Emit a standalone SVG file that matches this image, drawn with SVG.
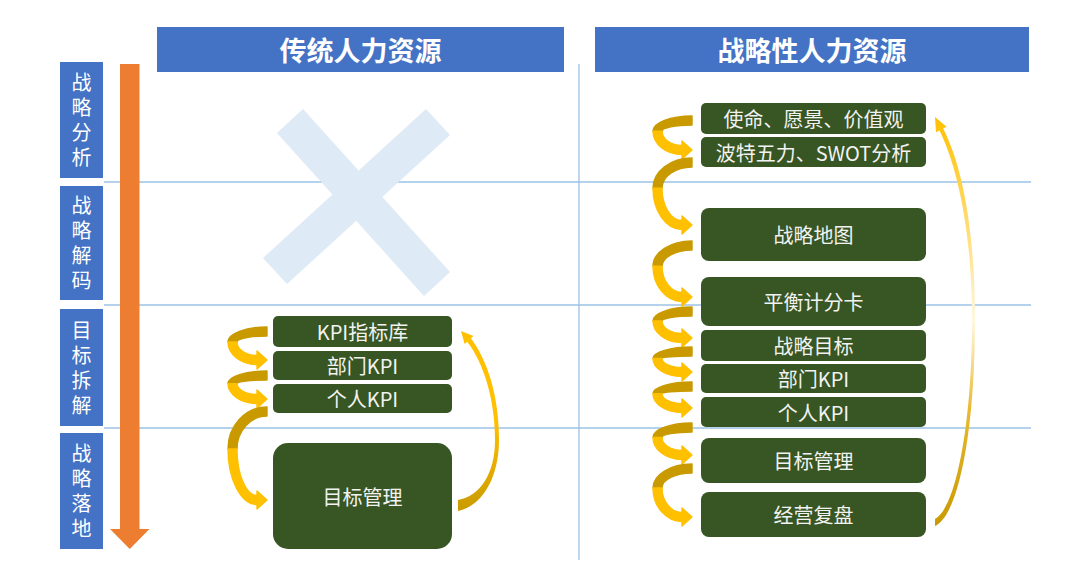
<svg xmlns="http://www.w3.org/2000/svg" width="1080" height="576" viewBox="0 0 1080 576">
<defs>
<style>
.grid{stroke:#9DC3E6;stroke-width:1.3;fill:none}
.hdr{fill:#4472C4}
.hdrt{font-family:"Noto Sans CJK SC","Noto Sans",sans-serif;font-size:27px;font-weight:bold;fill:#FFFFFF;text-anchor:middle;dominant-baseline:central}
.lbl{fill:#4472C4}
.lblt{font-family:"Noto Sans CJK SC","Noto Sans",sans-serif;font-size:20px;fill:#FFFFFF;text-anchor:middle;writing-mode:tb;letter-spacing:5px}
.nd{fill:#375623}
.ndt{font-family:"Noto Sans CJK SC","Noto Sans",sans-serif;font-size:20px;fill:#F2F2F2;text-anchor:middle;dominant-baseline:central}
.bk{fill:#C99A00;stroke:#C99A00;stroke-width:1.4;stroke-linejoin:round}
.fr{fill:#FFC000;stroke:#FFC000;stroke-width:1.4;stroke-linejoin:round}
</style>
<linearGradient id="gL" gradientUnits="userSpaceOnUse" x1="0" y1="330" x2="0" y2="512">
<stop offset="0" stop-color="#FFC000"/>
<stop offset="0.5" stop-color="#FFC000"/>
<stop offset="1" stop-color="#C99A00"/>
</linearGradient>
<linearGradient id="gR" gradientUnits="userSpaceOnUse" x1="0" y1="117" x2="0" y2="526">
<stop offset="0" stop-color="#FFC000"/>
<stop offset="0.3" stop-color="#FFE083"/>
<stop offset="0.5" stop-color="#FFF7E0"/>
<stop offset="0.72" stop-color="#E8B830"/>
<stop offset="1" stop-color="#C99A00"/>
</linearGradient>
</defs>
<rect width="1080" height="576" fill="#FFFFFF"/>

<g id="grid">
<line class="grid" x1="104" y1="182" x2="1031" y2="182"/>
<line class="grid" x1="104" y1="305" x2="1031" y2="305"/>
<line class="grid" x1="104" y1="428" x2="1031" y2="428"/>
<line class="grid" x1="579" y1="64" x2="579" y2="560"/>
</g>

<g id="cross" fill="#DEEAF6">
<polygon points="277,133 303,109 450,272 424,296"/>
<polygon points="426,109 450,135 287,284 263,258"/>
</g>

<g id="timeline">
<rect x="120" y="64" width="19.5" height="466" fill="#ED7D31"/>
<polygon points="110,529 149.5,529 129.75,549" fill="#ED7D31"/>
</g>

<g id="header-traditional">
<rect class="hdr" x="157" y="27" width="407" height="45"/>
<text class="hdrt" x="360.5" y="49.5">传统人力资源</text>
</g>
<g id="header-strategic">
<rect class="hdr" x="595" y="27" width="434" height="45"/>
<text class="hdrt" x="812" y="49.5">战略性人力资源</text>
</g>

<g id="stage-analysis">
<rect class="lbl" x="60" y="62" width="43" height="116"/>
<text class="lblt" x="81.5" y="122.5">战略分析</text>
</g>
<g id="stage-decode">
<rect class="lbl" x="60" y="186" width="43" height="114"/>
<text class="lblt" x="81.5" y="245.5">战略解码</text>
</g>
<g id="stage-breakdown">
<rect class="lbl" x="60" y="309" width="43" height="117"/>
<text class="lblt" x="81.5" y="370">目标拆解</text>
</g>
<g id="stage-landing">
<rect class="lbl" x="60" y="433" width="43" height="116"/>
<text class="lblt" x="81.5" y="493.5">战略落地</text>
</g>

<g id="connectors">
<g transform="translate(267,327)">
<path class="bk" d="M0,0 C-21.5,0 -39,6.7 -39,14.9 L-30,14.9 C-30,11.7 -16.5,9 0,9 Z"/>
<path class="fr" d="M-39,14.9 C-39,27.3 -26,37.5 -10,37.5 L-10,42 L0,33 L-10,24 L-10,28.5 C-21,28.5 -30,22.4 -30,14.9 Z"/>
</g>
<g transform="translate(267,371)">
<path class="bk" d="M0,0 C-21.5,0 -39,5.7 -39,12.6 L-30,12.6 C-30,10.6 -16.5,9 0,9 Z"/>
<path class="fr" d="M-39,12.6 C-39,23.5 -26,32.5 -10,32.5 L-10,37 L0,28 L-10,19 L-10,23.5 C-21,23.5 -30,18.6 -30,12.6 Z"/>
</g>
<g transform="translate(267,407)">
<path class="bk" d="M0,0 C-21.5,0 -39,18.9 -39,41.9 L-30,41.9 C-30,23.8 -16.5,9 0,9 Z"/>
<path class="fr" d="M-39,41.9 C-39,72.5 -26,97.5 -10,97.5 L-10,102 L0,93 L-10,84 L-10,88.5 C-21,88.5 -30,67.5 -30,41.9 Z"/>
</g>
<path fill="url(#gL)" d="M458,511 C482,506 499,478 499,440 C499,395 487,360 470.9,338.3 L473.4,336 L461,331 L464.6,344 L467.2,341.7 C483,362 495,398 495,440 C495,474 480,496 458,500 Z"/>

<g transform="translate(692,116)">
<path class="bk" d="M0,0 C-21.5,0 -39,6.9 -39,15.3 L-30,15.3 C-30,11.8 -16.5,9 0,9 Z"/>
<path class="fr" d="M-39,15.3 C-39,28.1 -26,38.5 -10,38.5 L-10,43 L0,34 L-10,25 L-10,29.5 C-21,29.5 -30,23.1 -30,15.3 Z"/>
</g>
<g transform="translate(692,158)">
<path class="bk" d="M0,0 C-21.5,0 -39,13.6 -39,30.2 L-30,30.2 C-30,18.5 -16.5,9 0,9 Z"/>
<path class="fr" d="M-39,30.2 C-39,52.9 -26,71.5 -10,71.5 L-10,76 L0,67 L-10,58 L-10,62.5 C-21,62.5 -30,48 -30,30.2 Z"/>
</g>
<g transform="translate(692,241)">
<path class="bk" d="M0,0 C-21.5,0 -39,11.3 -39,25.2 L-30,25.2 C-30,16.3 -16.5,9 0,9 Z"/>
<path class="fr" d="M-39,25.2 C-39,44.6 -26,60.5 -10,60.5 L-10,65 L0,56 L-10,47 L-10,51.5 C-21,51.5 -30,39.7 -30,25.2 Z"/>
</g>
<g transform="translate(692,307)">
<path class="bk" d="M0,0 C-21.5,0 -39,6.3 -39,14 L-30,14 C-30,11.25 -16.5,9 0,9 Z"/>
<path class="fr" d="M-39,14 C-39,25.8 -26,35.5 -10,35.5 L-10,40 L0,31 L-10,22 L-10,26.5 C-21,26.5 -30,20.9 -30,14 Z"/>
</g>
<g transform="translate(692,347)">
<path class="bk" d="M0,0 C-21.5,0 -39,5.2 -39,11.5 L-30,11.5 C-30,10.1 -16.5,9 0,9 Z"/>
<path class="fr" d="M-39,11.5 C-39,21.4 -26,29.5 -10,29.5 L-10,34 L0,25 L-10,16 L-10,20.5 C-21,20.5 -30,16.5 -30,11.5 Z"/>
</g>
<g transform="translate(692,382)">
<path class="bk" d="M0,0 C-21.5,0 -39,5.3 -39,11.7 L-30,11.7 C-30,10.2 -16.5,9 0,9 Z"/>
<path class="fr" d="M-39,11.7 C-39,22 -26,30.5 -10,30.5 L-10,35 L0,26 L-10,17 L-10,21.5 C-21,21.5 -30,17.1 -30,11.7 Z"/>
</g>
<g transform="translate(692,423)">
<path class="bk" d="M0,0 C-21.5,0 -39,6.5 -39,14.4 L-30,14.4 C-30,11.4 -16.5,9 0,9 Z"/>
<path class="fr" d="M-39,14.4 C-39,26.6 -26,36.5 -10,36.5 L-10,41 L0,32 L-10,23 L-10,27.5 C-21,27.5 -30,21.6 -30,14.4 Z"/>
</g>
<g transform="translate(692,464)">
<path class="bk" d="M0,0 C-21.5,0 -39,10.8 -39,23.9 L-30,23.9 C-30,15.7 -16.5,9 0,9 Z"/>
<path class="fr" d="M-39,23.9 C-39,42.4 -26,57.5 -10,57.5 L-10,62 L0,53 L-10,44 L-10,48.5 C-21,48.5 -30,37.4 -30,23.9 Z"/>
</g>
<path fill="url(#gR)" d="M935,526 C959,515 975,430 975,320 C975,230 962,165 943.1,128.6 L946.6,126.8 L935,117 L936,132.2 L939.5,130.4 C957,166 972,230 972,320 C972,425 956,508 935,519 Z"/>
</g>

<g id="node-kpi-library">
<rect class="nd" x="273" y="316" width="179" height="31" rx="5"/>
<text class="ndt" x="362.5" y="331.5">KPI指标库</text>
</g>
<g id="node-dept-kpi-left">
<rect class="nd" x="273" y="351" width="179" height="29" rx="5"/>
<text class="ndt" x="362.5" y="365.5">部门KPI</text>
</g>
<g id="node-indiv-kpi-left">
<rect class="nd" x="273" y="384" width="179" height="29" rx="5"/>
<text class="ndt" x="362.5" y="398.5">个人KPI</text>
</g>
<g id="node-goal-mgmt-left">
<rect class="nd" x="273" y="443" width="179" height="106" rx="15"/>
<text class="ndt" x="362.5" y="496">目标管理</text>
</g>

<g id="node-mission">
<rect class="nd" x="701" y="103" width="225" height="31" rx="5"/>
<text class="ndt" x="813.5" y="118.5">使命、愿景、价值观</text>
</g>
<g id="node-porter">
<rect class="nd" x="701" y="137" width="225" height="30" rx="5"/>
<text class="ndt" x="813.5" y="152">波特五力、SWOT分析</text>
</g>
<g id="node-strategy-map">
<rect class="nd" x="701" y="208" width="225" height="53" rx="8"/>
<text class="ndt" x="813.5" y="234.5">战略地图</text>
</g>
<g id="node-bsc">
<rect class="nd" x="701" y="277" width="225" height="49" rx="8"/>
<text class="ndt" x="813.5" y="301.5">平衡计分卡</text>
</g>
<g id="node-strategic-goal">
<rect class="nd" x="701" y="330" width="225" height="31" rx="5"/>
<text class="ndt" x="813.5" y="345.5">战略目标</text>
</g>
<g id="node-dept-kpi-right">
<rect class="nd" x="701" y="364" width="225" height="29" rx="5"/>
<text class="ndt" x="813.5" y="378.5">部门KPI</text>
</g>
<g id="node-indiv-kpi-right">
<rect class="nd" x="701" y="397" width="225" height="30" rx="5"/>
<text class="ndt" x="813.5" y="412">个人KPI</text>
</g>
<g id="node-goal-mgmt-right">
<rect class="nd" x="701" y="438" width="225" height="45" rx="8"/>
<text class="ndt" x="813.5" y="460.5">目标管理</text>
</g>
<g id="node-review">
<rect class="nd" x="701" y="492" width="225" height="45" rx="8"/>
<text class="ndt" x="813.5" y="514.5">经营复盘</text>
</g>
</svg>
